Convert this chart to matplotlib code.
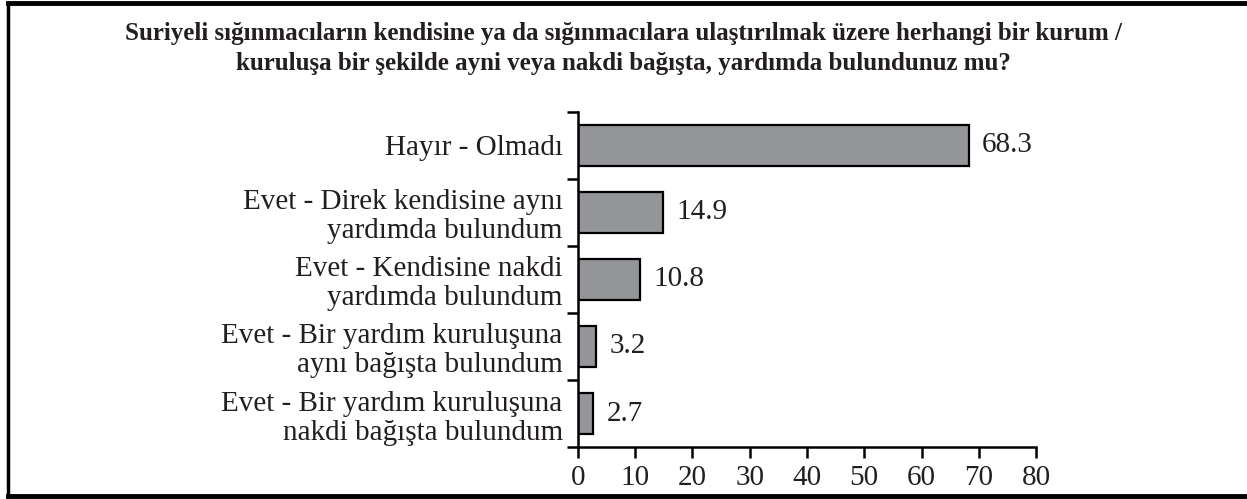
import matplotlib
matplotlib.use("Agg")
import matplotlib.pyplot as plt
from matplotlib.lines import Line2D

# Data
categories = [
    "Hayır - Olmadı",
    "Evet - Direk kendisine aynı\nyardımda bulundum",
    "Evet - Kendisine nakdi\nyardımda bulundum",
    "Evet - Bir yardım kuruluşuna\naynı bağışta bulundum",
    "Evet - Bir yardım kuruluşuna\nnakdi bağışta bulundum",
]
values = [68.3, 14.9, 10.8, 3.2, 2.7]
x_ticks = [0, 10, 20, 30, 40, 50, 60, 70, 80]
title_text = ("Suriyeli sığınmacıların kendisine ya da sığınmacılara ulaştırılmak üzere herhangi bir kurum /\n"
              "kuruluşa bir şekilde ayni veya nakdi bağışta, yardımda bulundunuz mu?")

plt.rcParams["font.family"] = ["Liberation Serif", "DejaVu Serif"]

fig = plt.figure(figsize=(12.47, 4.99), dpi=100)
ax = fig.add_axes([0.4635, 0.1042, 0.3673, 0.6714])

pos = list(range(len(categories)))
ax.barh(pos, values, height=0.62, color="#939598", edgecolor="black", linewidth=1.6)

for p, v in zip(pos, values):
    ax.text(v + 2.3, p, "{:.1f}".format(v), va="center", ha="left", fontsize=21, color="#231f20")

ax.set_xlim(0, 80)
ax.set_ylim(len(categories) - 0.5, -0.5)
ax.set_xticks(x_ticks)
ax.set_xticklabels([str(t) for t in x_ticks], fontsize=21, color="#231f20")

# category boundaries as major ticks, labels on minor ticks
ax.set_yticks([i - 0.5 for i in range(len(categories) + 1)])
ax.set_yticklabels([])
ax.set_yticks(pos, minor=True)
ax.set_yticklabels(categories, minor=True, fontsize=21, color="#231f20", linespacing=1.15)
ax.tick_params(axis="y", which="minor", length=0, pad=11)
ax.tick_params(axis="y", which="major", length=8, width=1.8)
ax.tick_params(axis="x", length=8, width=1.8, pad=5)

for s in ["top", "right"]:
    ax.spines[s].set_visible(False)
for s in ["left", "bottom"]:
    ax.spines[s].set_linewidth(1.8)

fig.text(0.5, 0.903, title_text, ha="center", va="center", fontsize=18,
         fontweight="bold", color="#231f20", linespacing=1.35)

# page frame
fig.add_artist(Line2D([0.0065, 1.0], [0.9940, 0.9940], transform=fig.transFigure, color="black", lw=3.5))
fig.add_artist(Line2D([0.0065, 0.0065], [0.0060, 0.9940], transform=fig.transFigure, color="black", lw=2.5))
fig.add_artist(Line2D([0.0065, 1.0], [0.0060, 0.0060], transform=fig.transFigure, color="black", lw=3.5))

fig.savefig("out.png", dpi=100)
